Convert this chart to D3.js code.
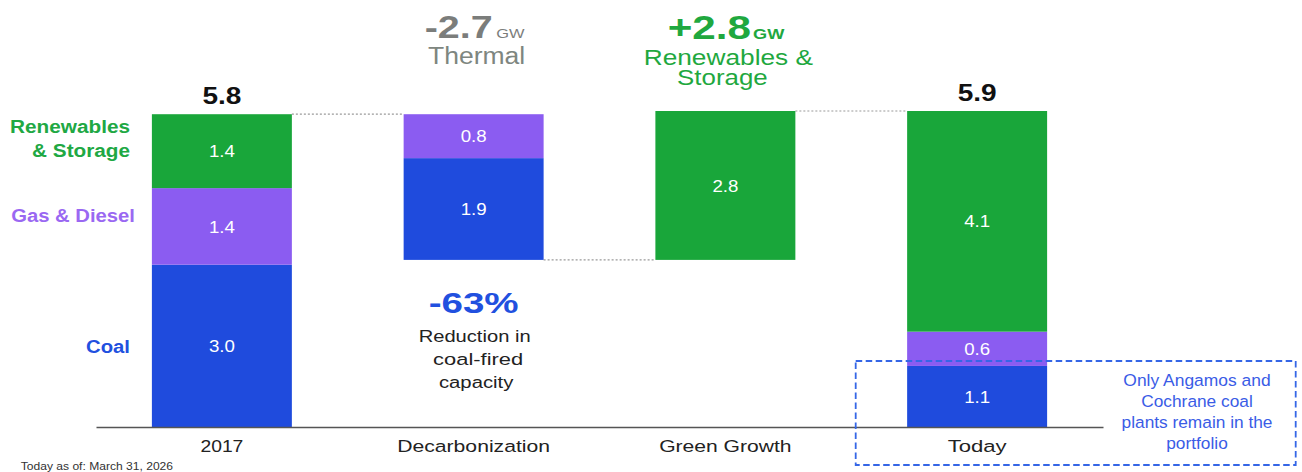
<!DOCTYPE html>
<html>
<head>
<meta charset="utf-8">
<script src="https://cdn.jsdelivr.net/npm/d3@7"></script>
<style>
  html, body { margin: 0; padding: 0; background: #fff; }
  svg { display: block; font-family: "Liberation Sans", Arial, Helvetica, sans-serif; }
</style>
</head>
<body>
<svg id="chart" width="1302" height="472"></svg>
<script>
// ---------- DATA ----------
const categories = ["2017", "Decarbonization", "Green Growth", "Today"];
const barTypes   = ["total", "decrease", "increase", "total"];
const seriesNames = ["Coal", "Gas & Diesel", "Renewables & Storage"];
const coalValues  = [3.03, 1.90, 0,    1.14];
const gasValues   = [1.43, 0.82, 0,    0.64];
const renewValues = [1.38, 0,    2.78, 4.12];
const legendLines = [["Coal"], ["Gas & Diesel"], ["Renewables", "& Storage"]];
const thermalChange = "-2.7";
const thermalLabel = "Thermal";
const renewChange = "+2.8";
const renewLabelLines = ["Renewables &", "Storage"];
const coalReduction = "-63%";
const coalReductionLines = ["Reduction in", "coal-fired", "capacity"];
const noteLines = ["Only Angamos and", "Cochrane coal", "plants remain in the", "portfolio"];
const footnote = "Today as of: March 31, 2026";

// ---------- STYLE ----------
const colors = { coal: "#1f4bdd", gas: "#8b5cf1", renew: "#19a63a" };
const legendColors = ["#2150df", "#9a68f2", "#20a843"];
const fmt = d3.format(".1f");

const svg = d3.select("#chart");

// ---------- build waterfall table ----------
const seriesArrays = [coalValues, gasValues, renewValues];
const seriesKeys = ["coal", "gas", "renew"];
let running = 0;
const rows = categories.map((c, i) => {
  const vals = seriesArrays.map(a => a[i]);
  const sum = d3.sum(vals);
  let base;
  if (barTypes[i] === "total") { base = 0; running = sum; }
  else if (barTypes[i] === "decrease") { base = running - sum; running = base; }
  else { base = running; running = base + sum; }
  let acc = base;
  const segs = vals.map((v, k) => {
    const s = { key: seriesKeys[k], name: seriesNames[k], y0: acc, y1: acc + v, v: v, cat: c };
    acc += v;
    return s;
  }).filter(s => s.v > 0);
  return { cat: c, type: barTypes[i], base, top: base + sum, sum, segs, end: running };
});

// ---------- scales ----------
const x = d3.scaleBand().domain(categories).range([96, 1103]).paddingInner(0.444).paddingOuter(0.222);
const yMax = d3.max(rows, r => r.top);
const y = d3.scaleLinear().domain([0, yMax]).range([427, 111]);
const bw = x.bandwidth();
const cx = c => x(c) + bw / 2;

// text helper: fit to target width with horizontal stretch
function label(parent, px, py, str, o) {
  const t = parent.append("text")
    .attr("transform", `translate(${px},${py})`)
    .attr("text-anchor", o.anchor || "middle")
    .style("font-size", o.size + "px")
    .style("font-weight", o.weight || 400)
    .attr("fill", o.fill || "#222")
    .text(str);
  if (o.dy) t.attr("dy", o.dy);
  if (o.w) {
    const L = t.node().getComputedTextLength();
    if (L > 0) t.attr("transform", `translate(${px},${py}) scale(${(o.w / L).toFixed(4)},1)`);
  }
  return t;
}

// ---------- connectors ----------
const conn = svg.append("g").attr("class", "connectors");
for (let i = 0; i < rows.length - 1; i++) {
  const level = rows[i].type === "decrease" ? rows[i].base : rows[i].top;
  conn.append("line")
    .attr("x1", x(categories[i]) + bw).attr("x2", x(categories[i + 1]))
    .attr("y1", y(level)).attr("y2", y(level))
    .attr("stroke", "#9a9a9a").attr("stroke-width", 1.2).attr("stroke-dasharray", "2,2");
}

// ---------- bars ----------
const barG = svg.append("g").attr("class", "bars");
barG.selectAll("g.bar").data(rows).join("g").attr("class", "bar")
  .selectAll("rect").data(d => d.segs).join("rect")
  .attr("x", d => x(d.cat)).attr("width", bw)
  .attr("y", d => y(d.y1)).attr("height", d => y(d.y0) - y(d.y1))
  .attr("fill", d => colors[d.key]);

// value labels
const valG = svg.append("g").attr("class", "values");
rows.forEach(r => r.segs.forEach(s => {
  label(valG, cx(r.cat), (y(s.y0) + y(s.y1)) / 2, fmt(s.v), { size: 17, fill: "#fff", dy: "0.36em", w: 26 });
}));

// totals
const totG = svg.append("g").attr("class", "totals");
rows.filter(r => r.type === "total").forEach(r => {
  label(totG, cx(r.cat), y(r.top) - 10, fmt(r.top), { size: 23.5, weight: 700, fill: "#111", w: 39 });
});

// ---------- axis ----------
const axis = svg.append("g").attr("transform", `translate(0,${y(0)})`)
  .call(d3.axisBottom(x).tickSize(0).tickSizeOuter(0));
axis.select(".domain").attr("stroke", "#555").attr("stroke-width", 1.6);
const catWidths = { "2017": 43, "Decarbonization": 153, "Green Growth": 132.5, "Today": 59 };
axis.selectAll(".tick text")
  .attr("y", 25.5).attr("dy", null)
  .style("font-size", "16.5px").style("font-family", "inherit").attr("fill", "#222")
  .each(function(d) {
    const L = this.getComputedTextLength();
    d3.select(this).attr("transform", `scale(${(catWidths[d] / L).toFixed(4)},1)`);
  });

// ---------- legend labels (left) ----------
const legG = svg.append("g").attr("class", "legend");
label(legG, 130, 352.7, legendLines[0][0], { size: 18.5, weight: 700, fill: legendColors[0], anchor: "end", w: 44 });
label(legG, 135, 221.7, legendLines[1][0], { size: 18.5, weight: 700, fill: legendColors[1], anchor: "end", w: 124 });
label(legG, 130, 133.3, legendLines[2][0], { size: 18.5, weight: 700, fill: legendColors[2], anchor: "end", w: 120 });
label(legG, 130, 156.7, legendLines[2][1], { size: 18.5, weight: 700, fill: legendColors[2], anchor: "end", w: 98 });

// ---------- annotations ----------
const ann = svg.append("g").attr("class", "annotations");
const cD = cx("Decarbonization");
const cG = cx("Green Growth");
label(ann, cD + 19, 37.5, thermalChange, { size: 31, weight: 700, fill: "#7b7d7b", anchor: "end", w: 68 });
label(ann, cD + 22.7, 37.5, "GW", { size: 12.5, weight: 400, fill: "#7b7d7b", anchor: "start", w: 28.3 });
label(ann, cD + 3, 63.5, thermalLabel, { size: 23, fill: "#7e8680", w: 97.3 });

label(ann, cG + 25.7, 38.8, renewChange, { size: 33, weight: 700, fill: "#1fa83f", anchor: "end", w: 83.4 });
label(ann, cG + 27.7, 38.8, "GW", { size: 14, weight: 700, fill: "#1fa83f", anchor: "start", w: 31.3 });
// two tight lines kept in one text element
const rl = ann.append("text").attr("text-anchor", "middle")
  .style("font-size", "21.5px").attr("fill", "#1fa83f");
const rlX = [cG + 3, cG - 3], rlY = [65, 85], rlW = [169.4, 90.6];
renewLabelLines.forEach((t, i) => {
  rl.append("tspan").attr("x", rlX[i]).attr("y", rlY[i])
    .attr("textLength", rlW[i]).attr("lengthAdjust", "spacingAndGlyphs").text(t);
});

label(ann, cD, 313.3, coalReduction, { size: 29.5, weight: 700, fill: "#2150df", w: 90 });
label(ann, cD + 1, 341.7, coalReductionLines[0], { size: 17.3, fill: "#222", w: 112 });
label(ann, cD + 4.5, 364.7, coalReductionLines[1], { size: 17.3, fill: "#222", w: 90 });
label(ann, cD + 2.5, 387.5, coalReductionLines[2], { size: 17.3, fill: "#222", w: 74.4 });

// ---------- dashed note box ----------
const box = svg.append("g").attr("class", "note");
box.append("rect")
  .attr("x", 855.7).attr("y", 361).attr("width", 440).attr("height", 104)
  .attr("fill", "none").attr("stroke", "#3566e6").attr("stroke-width", 1.8)
  .attr("stroke-dasharray", "6.5,3.5");
const noteW = [147.4, 111.6, 151, 61.6];
noteLines.forEach((t, i) => {
  label(box, 1197, 386 + i * 21.1, t, { size: 16.5, fill: "#3a5ce6", w: noteW[i] });
});

// ---------- footnote ----------
label(svg, 20.7, 469.5, footnote, { size: 11.5, fill: "#333", anchor: "start", w: 152.6 });
</script>
</body>
</html>
